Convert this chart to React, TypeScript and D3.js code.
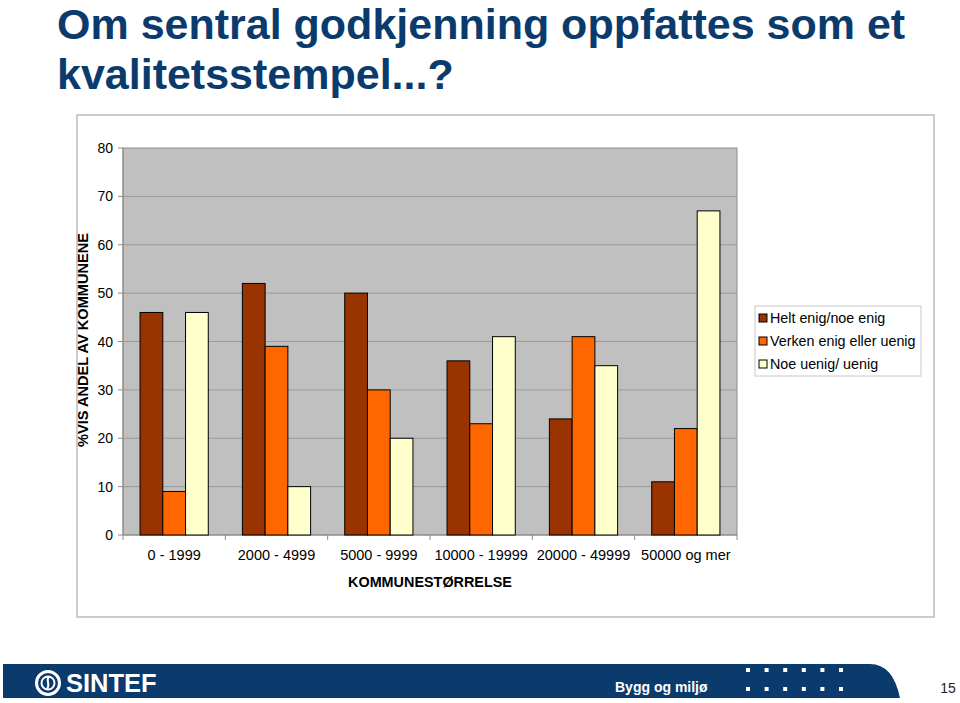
import React from "react";
import * as d3 from "d3";

const categories = ["0 - 1999", "2000 - 4999", "5000 - 9999", "10000 - 19999", "20000 - 49999", "50000 og mer"];
const seriesNames = ["Helt enig/noe enig", "Verken enig eller uenig", "Noe uenig/ uenig"];
const helt = [46, 52, 50, 36, 24, 11];
const verken = [9, 39, 30, 23, 41, 22];
const noe = [46, 10, 20, 41, 35, 67];
const yTicks = [0, 10, 20, 30, 40, 50, 60, 70, 80];
const colors = ["#993300", "#ff6600", "#ffffcc"];

const titleLines = ["Om sentral godkjenning oppfattes som et", "kvalitetsstempel...?"];

export default function App() {
  const W = 960, H = 703;
  const plot = { left: 123, right: 737, top: 148, bottom: 535 };
  const series = [helt, verken, noe];
  const x = d3.scaleBand<string>().domain(categories).range([plot.left, plot.right]).padding(0);
  const inner = d3.scaleBand<number>().domain([0, 1, 2]).range([0, x.bandwidth()]).paddingInner(0).paddingOuter(0.75);
  const y = d3.scaleLinear().domain([0, 80]).range([plot.bottom, plot.top]);
  const font = "'Liberation Sans', Arial, sans-serif";
  const navy = "#0b3a6c";
  const dotsX = d3.range(6);
  const dotsY = d3.range(2);

  return (
    <svg width={W} height={H} style={{ position: "absolute", left: 0, top: 0, background: "#fff" }} fontFamily={font}>
      {titleLines.map((t, i) => (
        <text key={i} x={57} y={39 + i * 50} fontSize={43} fontWeight="bold" fill={navy}>{t}</text>
      ))}

      <rect x={77} y={115} width={857} height={502} fill="#fff" stroke="#b9bdbd" strokeWidth={1.5} />

      <rect x={plot.left} y={plot.top} width={plot.right - plot.left} height={plot.bottom - plot.top} fill="#c0c0c0" stroke="#8c8c8c" strokeWidth={1} />
      {yTicks.map((t) => (
        <g key={t}>
          {t > 0 && t < 80 && (
            <line x1={plot.left} x2={plot.right} y1={y(t)} y2={y(t)} stroke="#9a9a9a" strokeWidth={1} />
          )}
          <line x1={plot.left - 5} x2={plot.left} y1={y(t)} y2={y(t)} stroke="#8c8c8c" />
          <text x={113} y={y(t)} dy="0.36em" textAnchor="end" fontSize={14} fill="#000">{t}</text>
        </g>
      ))}
      <line x1={plot.left} x2={plot.left} y1={plot.top} y2={plot.bottom} stroke="#8c8c8c" />
      <line x1={plot.left} x2={plot.right} y1={plot.bottom} y2={plot.bottom} stroke="#8c8c8c" />
      {categories.map((c, i) => (
        <line key={"xt" + i} x1={x(c)!} x2={x(c)!} y1={plot.bottom} y2={plot.bottom + 5} stroke="#8c8c8c" />
      ))}
      <line x1={plot.right} x2={plot.right} y1={plot.bottom} y2={plot.bottom + 5} stroke="#8c8c8c" />

      {categories.map((c, i) =>
        series.map((s, k) => (
          <rect
            key={c + k}
            x={x(c)! + inner(k)!}
            y={y(s[i])}
            width={inner.bandwidth()}
            height={y(0) - y(s[i])}
            fill={colors[k]}
            stroke="#000"
            strokeWidth={1}
          />
        ))
      )}

      {categories.map((c) => (
        <text key={"xl" + c} x={x(c)! + x.bandwidth() / 2} y={560} textAnchor="middle" fontSize={14.5} fill="#000">{c}</text>
      ))}
      <text x={(plot.left + plot.right) / 2} y={587} textAnchor="middle" fontSize={14.4} fontWeight="bold">KOMMUNESTØRRELSE</text>
      <text transform={`translate(88,340) rotate(-90)`} textAnchor="middle" fontSize={14.6} fontWeight="bold">%VIS ANDEL AV KOMMUNENE</text>

      <g transform="translate(755,306)">
        <rect x={0} y={0} width={166} height={70} fill="#fff" stroke="#c8c8c8" />
        {seriesNames.map((n, k) => (
          <g key={n} transform={`translate(0,${12 + k * 23})`}>
            <rect x={4} y={-4} width={8} height={8} fill={colors[k]} stroke="#000" />
            <text x={15} y={0} dy="0.36em" fontSize={14.3}>{n}</text>
          </g>
        ))}
      </g>

      <path d="M3,664 L870,664 Q893,664 900,698 L3,698 Z" fill={navy} />
      <g transform="translate(48,683)">
        <circle r={11.5} fill="none" stroke="#fff" strokeWidth={3} />
        <circle r={6.5} fill="none" stroke="#fff" strokeWidth={2} />
        <path d="M1,-6 C-3,-3 3,1 -1,6" fill="none" stroke="#fff" strokeWidth={2} />
      </g>
      <text x={66} y={692} fontSize={25.5} fontWeight="bold" fill="#fff">SINTEF</text>
      <text x={615} y={692} fontSize={14} fontWeight="bold" fill="#fff">Bygg og miljø</text>
      {dotsY.map((r) =>
        dotsX.map((cI) => (
          <rect key={r + "-" + cI} x={746 + cI * 18.6} y={668 + r * 19} width={4} height={4} fill="#fff" />
        ))
      )}
      <text x={948} y={693} textAnchor="middle" fontSize={14} fill="#222">15</text>
    </svg>
  );
}
